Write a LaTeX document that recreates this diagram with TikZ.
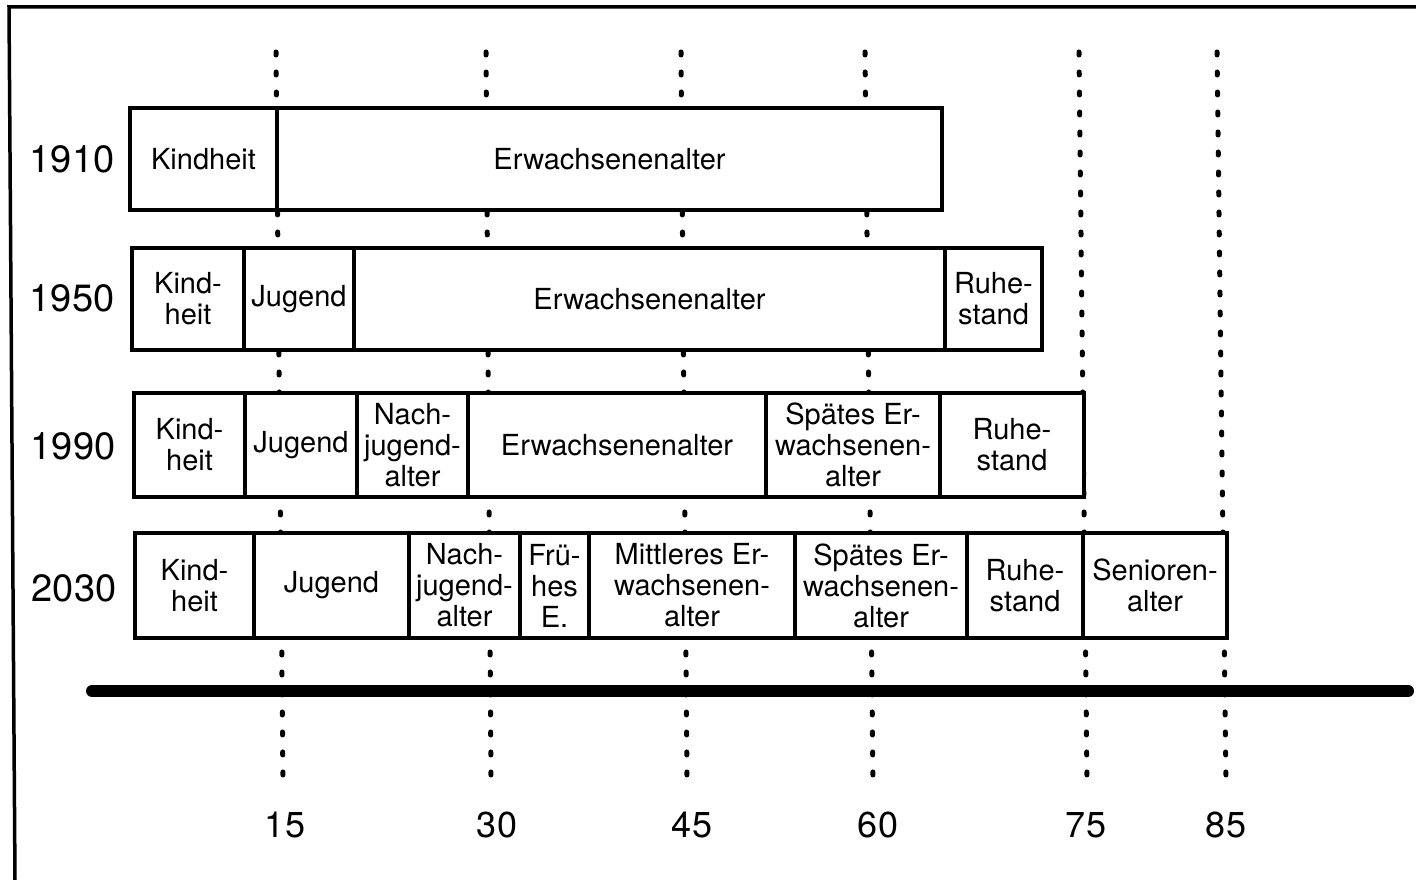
\documentclass[tikz,border=0pt]{standalone}
\usepackage{fontspec}
\setmainfont{TeX Gyre Heros}
\begin{document}
\begin{tikzpicture}[x=1pt,y=-1pt,
  cell/.style={draw,fill=white,line width=4pt,inner sep=0pt,outer sep=0pt,align=center,
    font=\fontsize{29}{31}\selectfont},
  guide/.style={line width=5pt,line cap=round,dash pattern=on 3pt off 17pt},
  yearlbl/.style={font=\fontsize{38}{40}\selectfont,inner sep=0pt},
  agelbl/.style={font=\fontsize{36}{38}\selectfont,inner sep=0pt}]
\useasboundingbox (0,0) rectangle (1416,880);
% frame
\draw[line width=3.5pt] (1416,7) -- (9,7) -- (15,880);
% guide lines
\foreach \n/\xa/\xb in {a/276/283, b/486/491, c/681/687, d/865/873, e/1079/1087, f/1217/1226}{
  \coordinate (t\n) at (\xa,52);
  \coordinate (b\n) at (\xb,782);
  \draw[guide] (t\n) -- (b\n);
}
\newcommand\cellbox[6]{%
  \node[cell,minimum width={(#3-#2)*1pt},minimum height={(#5-#4)*1pt}] (#1) at ({(#2+#3)/2},{(#4+#5)/2}) {#6};}
% 1910
\cellbox{ka}{130}{277}{108}{210}{Kindheit}
\cellbox{ea}{277}{942}{108}{210}{Erwachsenenalter}
% 1950
\cellbox{kb}{132}{244}{248}{350}{Kind-\\heit}
\cellbox{jb}{244}{354}{248}{350}{Jugend}
\cellbox{eb}{354}{945}{248}{350}{Erwachsenenalter}
\cellbox{rb}{945}{1042}{248}{350}{Ruhe-\\stand}
% 1990
\cellbox{kc}{134}{245}{393}{497}{Kind-\\heit}
\cellbox{jc}{245}{357}{393}{497}{Jugend}
\cellbox{nc}{357}{468}{393}{497}{Nach-\\jugend-\\alter}
\cellbox{ec}{468}{766}{393}{497}{Erwachsenenalter}
\cellbox{sc}{766}{940}{393}{497}{Spätes Er-\\wachsenen-\\alter}
\cellbox{rc}{940}{1084}{393}{497}{Ruhe-\\stand}
% 2030
\cellbox{kd}{135}{254}{533}{638}{Kind-\\heit}
\cellbox{jd}{254}{409}{533}{638}{Jugend}
\cellbox{nd}{409}{520}{533}{638}{Nach-\\jugend-\\alter}
\cellbox{fd}{520}{589}{533}{638}{Frü-\\hes\\E.}
\cellbox{md}{589}{795}{533}{638}{Mittleres Er-\\wachsenen-\\alter}
\cellbox{sd}{795}{967}{533}{638}{Spätes Er-\\wachsenen-\\alter}
\cellbox{rd}{967}{1083}{533}{638}{Ruhe-\\stand}
\cellbox{pd}{1083}{1227}{533}{638}{Senioren-\\alter}
% years
\node[yearlbl] (y1) at (72,159) {1910};
\node[yearlbl] (y2) at (72,298) {1950};
\node[yearlbl] (y3) at (73,446) {1990};
\node[yearlbl] (y4) at (74,588) {2030};
% axis
\coordinate (axl) at (92,691);
\coordinate (axr) at (1408,691);
\draw[line width=12pt,line cap=round] (axl) -- (axr);
% ages
\node[agelbl] (a15) at (285,825) {15};
\node[agelbl] (a30) at (497,825) {30};
\node[agelbl] (a45) at (692,825) {45};
\node[agelbl] (a60) at (878,825) {60};
\node[agelbl] (a75) at (1086,825) {75};
\node[agelbl] (a85) at (1226,825) {85};
\end{tikzpicture}
\end{document}
